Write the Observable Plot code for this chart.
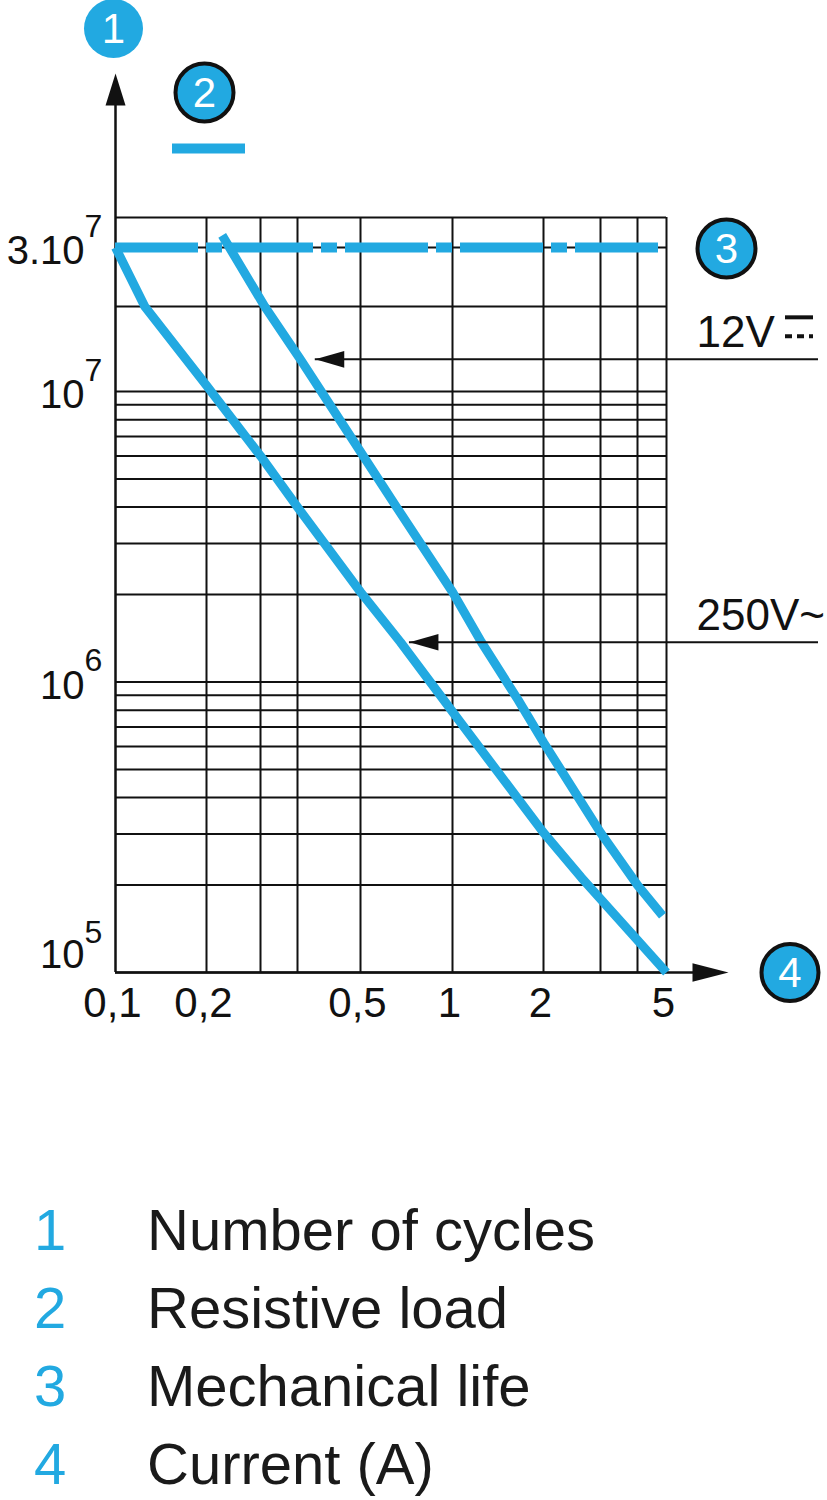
<!DOCTYPE html>
<html><head><meta charset="utf-8">
<script src="https://cdn.jsdelivr.net/npm/d3@7"></script>
<script src="https://cdn.jsdelivr.net/npm/@observablehq/plot@0.6"></script>
<style>
body{margin:0;background:#fff;font-family:"Liberation Sans",Arial,sans-serif;}
#chart svg{display:block}
g[aria-label="x-labels"] text{letter-spacing:-1px}
g[aria-label="annot-labels"] text{letter-spacing:-1px}
.legend{margin-top:91px}
.row{height:78px;line-height:78px;font-size:58px;color:#1a1a1a;white-space:nowrap}
.num{display:inline-block;width:113px;margin-left:34px;color:#22a9e1}
</style></head><body>
<div id="chart"></div>
<div class="legend" id="legend"></div>
<script>
// ---- data ----
const xTicks = [0.1, 0.2, 0.3, 0.4, 0.5, 1, 2, 3, 4, 5];
const xLabelValues = [0.1, 0.2, 0.5, 1, 2, 5];
const xLabelTexts = ["0,1", "0,2", "0,5", "1", "2", "5"];
const yGrid = [1e5,2e5,3e5,4e5,5e5,6e5,7e5,8e5,9e5,1e6,2e6,3e6,4e6,5e6,6e6,7e6,8e6,9e6,1e7,2e7,3e7,4e7];
const yLabelValues = [3e7, 1e7, 1e6, 1e5];
const yLabelBase = ["3.10", "10", "10", "10"];
const yLabelExp = ["7", "7", "6", "5"];
const mechanicalLife = 3e7;
const current12V = [0.225, 0.31, 0.404, 0.5, 0.656, 1, 1.247, 1.65, 2, 3, 4, 4.85];
const cycles12V = [3.37e7, 2e7, 1.3e7, 6.2e6, 4.0e6, 2.04e6, 1.37e6, 8.66e5, 6.2e5, 3.03e5, 2.0e5, 1.57e5];
const current250V = [0.1, 0.125, 0.2, 0.3, 0.4, 0.5, 0.676, 1, 2, 2.62, 5];
const cycles250V = [3e7, 2e7, 1.05e7, 6e6, 4e6, 2.04e6, 1.37e6, 7.9e5, 3.03e5, 2.12e5, 1e5];
const annotLabels = ["12V", "250V~"];
const annotCurrent = [0.426, 0.723];
const annotCycles = [1.3e7, 1.37e6];
const legendNumbers = ["1", "2", "3", "4"];
const legendTexts = ["Number of cycles", "Resistive load", "Mechanical life", "Current (A)"];

// ---- derived ----
const blue = "#22a9e1";
const ink = "#111";
const xMin = xTicks[0], xMax = xTicks[xTicks.length - 1];
const yMin = yGrid[0], yMax = yGrid[yGrid.length - 1];
const curve12 = current12V.map((x, i) => ({x, y: cycles12V[i]}));
const curve250 = current250V.map((x, i) => ({x, y: cycles250V[i]}));
const yLabels = yLabelValues.map((v, i) => ({v, base: yLabelBase[i], exp: yLabelExp[i]}));
const xLabels = xLabelValues.map((v, i) => ({v, label: xLabelTexts[i]}));
const annots = annotLabels.map((label, i) => ({label, x: annotCurrent[i], y: annotCycles[i]}));

const arrowUp = {draw(c){c.moveTo(0,0);c.lineTo(10,32);c.lineTo(-10,32);c.closePath();}};
const arrowRight = {draw(c){c.moveTo(0,0);c.lineTo(-36,9.3);c.lineTo(-36,-9.3);c.closePath();}};
const arrowLeft = {draw(c){c.moveTo(0,0);c.lineTo(29,8.3);c.lineTo(29,-8.3);c.closePath();}};

const upper = yLabels.filter(d => d.v > yMin);
const lower = yLabels.filter(d => d.v === yMin);

const plot = Plot.plot({
  width: 827,
  height: 1100,
  style: {background: "white", fontFamily: "Liberation Sans, Arial, sans-serif", overflow: "visible"},
  x: {type: "log", domain: xTicks, range: [115, 206, 260, 297, 360, 452, 543, 600, 637, 666], axis: null},
  y: {type: "log", domain: [1e5, 1e7, 2e7, 3e7, 4e7], range: [972, 391, 306, 247, 217], axis: null},
  marks: [
    // grid
    Plot.ruleY(yGrid, {x1: xMin, x2: xMax, stroke: ink, strokeWidth: 2}),
    Plot.ruleX(xTicks.slice(1), {y1: yMax, y2: yMin, stroke: ink, strokeWidth: 2}),
    // axes with arrows
    Plot.ruleX([xMin], {y1: yMax, y2: yMin, insetTop: -120, stroke: ink, strokeWidth: 2.5}),
    Plot.ruleY([yMin], {x1: xMin, x2: xMax, insetRight: -30, stroke: ink, strokeWidth: 2.5}),
    Plot.dot([xMin], {x: d => d, y: yMax, dy: -144, symbol: arrowUp, fill: ink, stroke: null}),
    Plot.dot([yMin], {x: xMax, y: d => d, dx: 62, symbol: arrowRight, fill: ink, stroke: null}),
    // mechanical life
    Plot.ruleY([mechanicalLife], {x1: xMin, x2: xMax, stroke: blue, strokeWidth: 10, strokeDasharray: "83,8,16,8"}),
    // curves
    Plot.line(curve250, {x: "x", y: "y", stroke: blue, strokeWidth: 9, strokeLinecap: "butt", strokeLinejoin: "round"}),
    Plot.line(curve12, {x: "x", y: "y", stroke: blue, strokeWidth: 9, strokeLinecap: "butt", strokeLinejoin: "round"}),
    // annotations
    Plot.ruleY(annots, {y: "y", x1: "x", x2: xMax, insetRight: -152, stroke: ink, strokeWidth: 2}),
    Plot.dot(annots, {x: "x", y: "y", symbol: arrowLeft, fill: ink, stroke: null}),
    Plot.text(annots, {x: xMax, y: "y", text: "label", textAnchor: "start", lineAnchor: "bottom", dx: 30, dy: -12, fontSize: 44, fill: ink, ariaLabel: "annot-labels"}),
    Plot.ruleY(annots.slice(0, 1), {y: "y", x1: xMax, x2: xMax, insetLeft: 119, insetRight: -147, dy: -42, stroke: ink, strokeWidth: 4}),
    Plot.ruleY(annots.slice(0, 1), {y: "y", x1: xMax, x2: xMax, insetLeft: 119, insetRight: -147, dy: -23, stroke: ink, strokeWidth: 4, strokeDasharray: "7,5"}),
    // y labels
    Plot.text(upper, {x: xMin, y: "v", text: "base", textAnchor: "end", dx: -31, dy: 4, fontSize: 40, fill: ink}),
    Plot.text(upper, {x: xMin, y: "v", text: "exp", textAnchor: "start", dx: -31, dy: -21, fontSize: 32, fill: ink}),
    Plot.text(lower, {x: xMin, y: "v", text: "base", textAnchor: "end", dx: -31, dy: -17, fontSize: 40, fill: ink}),
    Plot.text(lower, {x: xMin, y: "v", text: "exp", textAnchor: "start", dx: -31, dy: -40, fontSize: 32, fill: ink}),
    // x labels
    Plot.text(xLabels, {x: "v", y: yMin, text: "label", dx: -3, dy: 31, fontSize: 42, fill: ink, ariaLabel: "x-labels"}),
    // legend sample line for resistive load
    Plot.ruleY([yMax], {x1: xMin, x2: xTicks[1], insetLeft: 57, insetRight: -39, dy: -69, stroke: blue, strokeWidth: 10}),
    // numbered circles
    Plot.dot([xMin], {x: d => d, y: yMax, dx: -2, dy: -189, r: 29.5, fill: blue, stroke: null}),
    Plot.text([legendNumbers[0]], {x: xMin, y: yMax, text: d => d, dx: -2, dy: -188, fontSize: 42, fill: "white"}),
    Plot.dot([xTicks[1]], {x: d => d, y: yMax, dx: -2, dy: -125, r: 29, fill: blue, stroke: ink, strokeWidth: 4}),
    Plot.text([legendNumbers[1]], {x: xTicks[1], y: yMax, text: d => d, dx: -2, dy: -124, fontSize: 42, fill: "white"}),
    Plot.dot([mechanicalLife], {x: xMax, y: d => d, dx: 60, dy: 1, r: 29, fill: blue, stroke: ink, strokeWidth: 4}),
    Plot.text([legendNumbers[2]], {x: xMax, y: mechanicalLife, text: d => d, dx: 60, dy: 2, fontSize: 42, fill: "white"}),
    Plot.dot([yMin], {x: xMax, y: d => d, dx: 123.5, r: 28.5, fill: blue, stroke: ink, strokeWidth: 4}),
    Plot.text([legendNumbers[3]], {x: xMax, y: yMin, text: d => d, dx: 123.5, dy: 1, fontSize: 42, fill: "white"})
  ]
});
document.getElementById("chart").appendChild(plot);

const legend = document.getElementById("legend");
legendNumbers.forEach((n, i) => {
  const row = document.createElement("div");
  row.className = "row";
  const num = document.createElement("span");
  num.className = "num";
  num.textContent = n;
  row.appendChild(num);
  row.appendChild(document.createTextNode(legendTexts[i]));
  legend.appendChild(row);
});
</script></body></html>
